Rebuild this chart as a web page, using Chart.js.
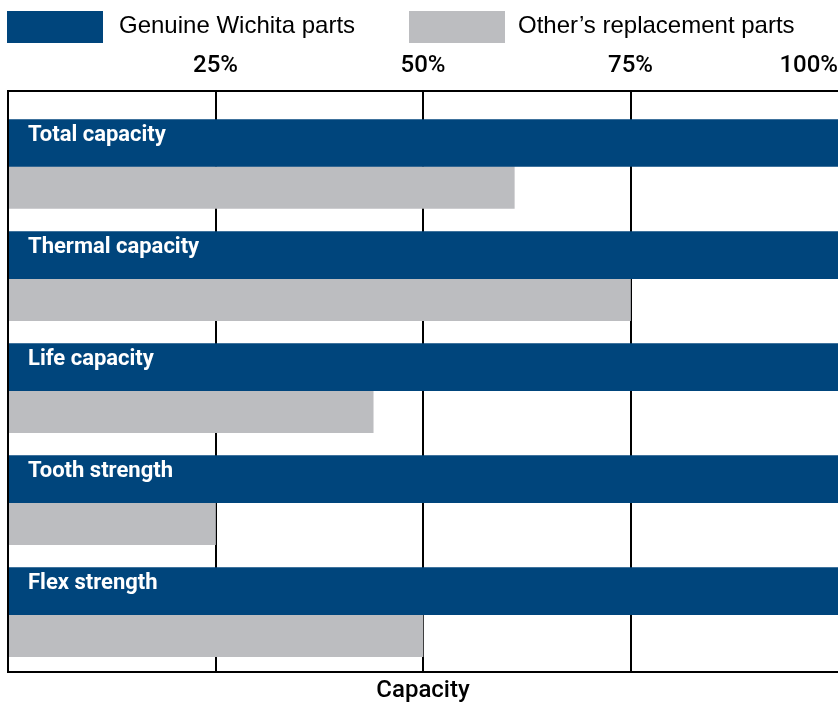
<!DOCTYPE html>
<html>
<head>
<meta charset="utf-8">
<title>Capacity comparison</title>
<script src="https://cdn.jsdelivr.net/npm/chart.js@4.4.1/dist/chart.umd.min.js"></script>
<style>
    html, body { margin: 0; padding: 0; background: #fff; }
    #wrap { width: 838px; height: 705px; }
</style>
</head>
<body>
<div id="wrap"><canvas id="capacityChart" width="838" height="705"></canvas></div>
<script>
const categories = ['Total capacity', 'Thermal capacity', 'Life capacity', 'Tooth strength', 'Flex strength'];
const seriesNames = ['Genuine Wichita parts', 'Other\u2019s replacement parts'];
const genuineValues = [100, 100, 100, 100, 100];
const replacementValues = [61, 75, 44, 25, 50];
const xTickValues = [0, 25, 50, 75, 100];

const BLUE = '#00457c';
const GREY = '#bcbdc0';
const SANS = '"Liberation Sans", Arial, Helvetica, sans-serif';
const MEDIUM = 'Roboto, "Liberation Sans", Arial, sans-serif';

Chart.defaults.font.family = SANS;
Chart.defaults.color = '#000';

// legend row drawn by hand so the boxes sit where the original has them
const legendBar = {
    id: 'legendBar',
    afterDraw(chart) {
        const ctx = chart.ctx;
        const boxX = [7, 409];
        const textX = [119, 518];
        ctx.save();
        ctx.font = '24px ' + SANS;
        ctx.textBaseline = 'alphabetic';
        chart.data.datasets.forEach((ds, i) => {
            ctx.fillStyle = ds.backgroundColor;
            ctx.fillRect(boxX[i], 11, 96, 32);
            ctx.fillStyle = '#000';
            ctx.fillText(ds.label, textX[i], 33);
        });
        ctx.restore();
    }
};

document.addEventListener('DOMContentLoaded', function() {
    const ctx = document.getElementById('capacityChart').getContext('2d');

    new Chart(ctx, {
        type: 'bar',
        data: {
            datasets: [
                {
                    label: seriesNames[0],
                    data: categories.map((c, i) => ({ x: genuineValues[i], y: i })),
                    backgroundColor: BLUE,
                    barThickness: 47,
                    borderWidth: 0
                },
                {
                    label: seriesNames[1],
                    data: categories.map((c, i) => ({ x: replacementValues[i], y: i })),
                    backgroundColor: GREY,
                    barThickness: 42,
                    borderWidth: 0
                }
            ]
        },
        options: {
            indexAxis: 'y',
            responsive: false,
            animation: false,
            layout: { padding: { left: 8, top: 52, right: 0, bottom: 0 } },
            plugins: {
                legend: { display: false },
                tooltip: { enabled: false }
            },
            scales: {
                x: {
                    type: 'linear',
                    position: 'top',
                    min: 0,
                    max: 100,
                    afterBuildTicks: scale => { scale.ticks = xTickValues.map(v => ({ value: v })); },
                    ticks: {
                        align: 'inner',
                        padding: 0,
                        color: '#000',
                        font: { family: MEDIUM, size: 24, weight: '500' },
                        callback: v => v === 0 ? '' : v + '%'
                    },
                    grid: {
                        color: c => (c.tick && c.tick.value > 0 && c.tick.value < 100) ? '#000' : 'rgba(0,0,0,0)',
                        lineWidth: 2,
                        tickLength: 10,
                        tickColor: 'rgba(0,0,0,0)'
                    },
                    border: { color: '#000', width: 2 }
                },
                x2: {
                    type: 'linear',
                    position: 'bottom',
                    min: 0,
                    max: 100,
                    ticks: { display: false },
                    grid: { display: false, drawTicks: false },
                    border: { color: '#000', width: 2 },
                    title: {
                        display: true,
                        text: 'Capacity',
                        color: '#000',
                        font: { family: MEDIUM, size: 24, weight: '500' },
                        padding: { top: 4, bottom: 0 }
                    }
                },
                y: {
                    type: 'linear',
                    reverse: true,
                    offset: false,
                    min: -0.676,
                    max: 4.514,
                    afterBuildTicks: scale => { scale.ticks = categories.map((c, i) => ({ value: i })); },
                    afterFit: scale => {
                        scale.width = 0;
                        scale.paddingTop = 0;
                        scale.paddingBottom = 0;
                    },
                    ticks: {
                        mirror: true,
                        padding: 20,
                        labelOffset: -31,
                        z: 1,
                        color: '#fff',
                        font: { family: MEDIUM, size: 22, weight: 'bold' },
                        callback: v => categories[v]
                    },
                    grid: { display: false, drawTicks: false },
                    border: { display: true, color: '#000', width: 2, z: 1 }
                }
            }
        },
        plugins: [legendBar]
    });
});
</script>
</body>
</html>
